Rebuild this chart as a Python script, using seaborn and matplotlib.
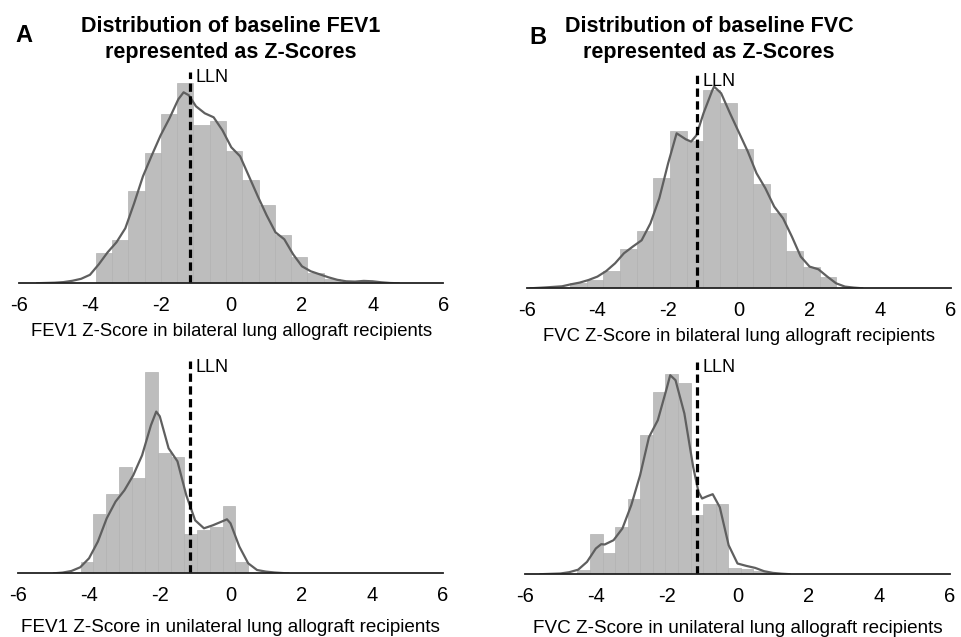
import numpy as np
import pandas as pd
import matplotlib
matplotlib.use("Agg")
import matplotlib.pyplot as plt
import seaborn as sns

# ---------------- data ----------------
# Panel A top: FEV1, bilateral
a1_bin_start, a1_bin_width = -3.83, 0.46
a1_counts = [30.7, 43.3, 92.7, 130, 169, 200, 158, 162, 132, 103, 78, 48, 26, 10.7, 4, 2, 2]
a1_kde_x = [-5.5, -5.0, -4.75, -4.5, -4.25, -4.0, -3.75, -3.5, -3.25, -3.0, -2.75, -2.5, -2.25, -2.0,
            -1.75, -1.5, -1.35, -1.2, -1.0, -0.75, -0.5, -0.25, 0.0, 0.25, 0.5, 0.75, 1.0, 1.25, 1.5,
            1.75, 2.0, 2.25, 2.5, 2.75, 3.0, 3.25, 3.5, 3.75, 4.0, 4.25, 4.5, 4.75]
a1_kde_y = [0.1, 0.6, 1.2, 2.5, 4.5, 8.5, 19, 31, 41, 55, 80, 107, 128, 148,
            165, 184, 191, 188, 177, 170, 166, 153, 136, 127, 107, 87, 68, 51, 44,
            29, 17, 12, 9, 6, 3.5, 2, 1.7, 2.4, 2, 1, 0.3, 0]
a1_lln = -1.17

# Panel A bottom: FEV1, unilateral
a2_bin_start, a2_bin_width = -4.24, 0.365
a2_counts = [11.7, 59.3, 79, 106, 95, 201.7, 120, 116, 39, 43.3, 46.7, 67.7, 11.7]
a2_kde_x = [-5.0, -4.75, -4.5, -4.25, -4.0, -3.75, -3.5, -3.25, -3.0, -2.75, -2.5, -2.25, -2.1, -2.0,
            -1.75, -1.5, -1.25, -1.0, -0.75, -0.5, -0.25, -0.1, 0.0, 0.25, 0.5, 0.75, 1.0, 1.25,
            1.5, 1.65]
a2_kde_y = [0, 0.7, 2.3, 6, 15, 31.7, 55, 71.7, 83, 98, 118, 148, 161.7, 157,
            125, 112, 78, 53, 45, 48, 51.7, 54, 50, 26.7, 10, 3.3, 1.7, 0.8,
            0.2, 0]
a2_lln = -1.15

# Panel B top: FVC, bilateral
b1_bin_start, b1_bin_width = -4.776, 0.471
b1_counts = [5, 8, 17.3, 39, 57, 110, 157, 147, 198, 185, 139, 104, 75, 37.3, 21.7, 11.7]
b1_kde_x = [-5.9, -5.5, -5.0, -4.75, -4.5, -4.25, -4.0, -3.75, -3.5, -3.25, -3.0, -2.75, -2.5, -2.25,
            -2.0, -1.76, -1.5, -1.35, -1.2, -1.0, -0.75, -0.7, -0.5, -0.25, 0.0, 0.25, 0.5, 0.75,
            1.0, 1.25, 1.5, 1.75, 2.0, 2.25, 2.5, 2.75, 3.0, 3.25, 3.5]
b1_kde_y = [0, 0.8, 2, 4, 5.7, 8.3, 11.7, 17.3, 25, 35, 41.7, 48, 65, 90,
            125, 155, 149, 146.7, 153, 175, 198, 201.7, 195, 175, 156, 137, 115, 100,
            81.7, 70, 51.7, 31.7, 21.7, 19, 11.7, 5, 1.7, 0.7, 0]
b1_lln = -1.18

# Panel B bottom: FVC, unilateral
b2_bin_start, b2_bin_width = -4.52, 0.355
b2_counts = [4, 40, 21.7, 47.3, 75.7, 139, 182, 200.7, 191, 59, 70, 70, 6, 5, 3]
b2_kde_x = [-5.57, -5.0, -4.75, -4.5, -4.25, -4.0, -3.85, -3.75, -3.5, -3.25, -3.0, -2.75, -2.5, -2.25,
            -2.0, -1.9, -1.75, -1.5, -1.25, -1.1, -1.0, -0.85, -0.7, -0.5, -0.25, 0.0, 0.25, 0.5,
            0.75, 1.0, 1.25, 1.48]
b2_kde_y = [0, 0.7, 2, 4.5, 12.3, 25.7, 30, 29.7, 34, 45.7, 69, 99, 137, 154,
            185.7, 199, 194, 160.7, 107, 82, 75.7, 78, 80, 67, 29, 10.7, 8.3, 6.3,
            3, 1.3, 0.5, 0]
b2_lln = -1.13

xticks = [-6, -4, -2, 0, 2, 4, 6]
xlabels = ["FEV1 Z-Score in bilateral lung allograft recipients",
           "FEV1 Z-Score in unilateral lung allograft recipients",
           "FVC Z-Score in bilateral lung allograft recipients",
           "FVC Z-Score in unilateral lung allograft recipients"]
titles = ["Distribution of baseline FEV1\nrepresented as Z-Scores",
          "Distribution of baseline FVC\nrepresented as Z-Scores"]
panel_letters = ["A", "B"]

# ---------------- style ----------------
sns.set_style("white")
plt.rcParams["font.family"] = ["Liberation Sans", "DejaVu Sans"]
plt.rcParams["text.color"] = "black"
plt.rcParams["axes.labelcolor"] = "black"
plt.rcParams["xtick.color"] = "black"

W, H = 961, 637
fig = plt.figure(figsize=(W / 100, H / 100), dpi=100)

def px_axes(left, baseline, right, top):
    return fig.add_axes([left / W, (H - baseline) / H, (right - left) / W, (baseline - top) / H])

panels = [
    dict(rect=(19.3, 283.3, 443.3, 72), start=a1_bin_start, width=a1_bin_width, counts=a1_counts,
         kx=a1_kde_x, ky=a1_kde_y, lln=a1_lln, xlabel=xlabels[0], lpad=6.2, lfs=13.3),
    dict(rect=(18.3, 573.3, 442.7, 361), start=a2_bin_start, width=a2_bin_width, counts=a2_counts,
         kx=a2_kde_x, ky=a2_kde_y, lln=a2_lln, xlabel=xlabels[1], lpad=10.0, lfs=13.6),
    dict(rect=(526.7, 288.3, 951.0, 75), start=b1_bin_start, width=b1_bin_width, counts=b1_counts,
         kx=b1_kde_x, ky=b1_kde_y, lln=b1_lln, xlabel=xlabels[2], lpad=6.2, lfs=13.3),
    dict(rect=(525.0, 574.2, 950.0, 362), start=b2_bin_start, width=b2_bin_width, counts=b2_counts,
         kx=b2_kde_x, ky=b2_kde_y, lln=b2_lln, xlabel=xlabels[3], lpad=10.0, lfs=13.6),
]

for p in panels:
    left, base, right, top = p["rect"]
    ax = px_axes(left, base, right, top)
    n = len(p["counts"])
    edges = [float(e) for e in (p["start"] + p["width"] * np.arange(n + 1))]
    centers = [(edges[i] + edges[i + 1]) / 2 for i in range(n)]
    df = pd.DataFrame({"z": centers, "w": p["counts"]})
    sns.histplot(data=df, x="z", weights="w", bins=edges, ax=ax, stat="count",
                 color="#bdbdbd", edgecolor="#b2b2b2", linewidth=0.5, alpha=1)
    kdf = pd.DataFrame({"z": p["kx"], "d": p["ky"]})
    sns.lineplot(data=kdf, x="z", y="d", ax=ax, color="#5f5f5f", linewidth=1.6, sort=True)
    ax.axvline(p["lln"], color="black", linewidth=2.3, linestyle=(0, (2.6, 1.4)))
    ylim_top = base - top
    ax.set_ylim(0, ylim_top)
    ax.set_xlim(-6, 6)
    ax.text(p["lln"] + 0.15, ylim_top - 6, "LLN", fontsize=13, va="center", ha="left", color="black")
    ax.set_xticks(xticks)
    ax.set_xticklabels([str(t) for t in xticks], fontsize=14.5)
    ax.set_yticks([])
    ax.set_ylabel("")
    ax.set_xlabel(p["xlabel"], fontsize=p["lfs"], labelpad=p["lpad"], color="black")
    for s in ["left", "right", "top"]:
        ax.spines[s].set_visible(False)
    ax.spines["bottom"].set_color("#222222")
    ax.spines["bottom"].set_linewidth(1.3)
    ax.tick_params(axis="x", direction="out", length=5, width=1.2, color="#222222",
                   labelcolor="black", pad=4)
    ax.patch.set_alpha(0)

# titles and panel letters
fig.text(231 / W, 1 - 39.5 / H, titles[0], ha="center", va="center", fontsize=15.5,
         fontweight="bold", linespacing=1.32, color="black")
fig.text(709 / W, 1 - 39.5 / H, titles[1], ha="center", va="center", fontsize=15.5,
         fontweight="bold", linespacing=1.32, color="black")
fig.text(24 / W, 1 - 36 / H, panel_letters[0], ha="center", va="center", fontsize=17,
         fontweight="bold", color="black")
fig.text(538 / W, 1 - 37 / H, panel_letters[1], ha="center", va="center", fontsize=17,
         fontweight="bold", color="black")

fig.savefig("out.png", dpi=100)
